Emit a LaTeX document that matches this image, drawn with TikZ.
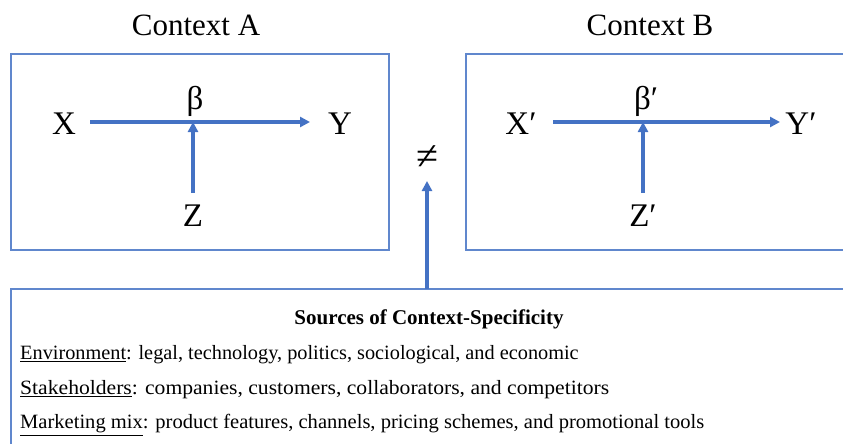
\documentclass[tikz,border=0pt]{standalone}
\usepackage{fontspec}
\setmainfont{Liberation Serif}
\usetikzlibrary{arrows.meta}
\definecolor{lineblue}{RGB}{68,114,196}
\begin{document}
\begin{tikzpicture}[x=1pt,y=-1pt,
  ctxbox/.style={draw=lineblue!85, line width=1.1pt},
  arr/.style={draw=lineblue, line width=3.4pt, -{Triangle[length=10pt,width=10pt]}},
  big/.style={font=\fontsize{33}{36}\selectfont, inner sep=0pt},
  title/.style={font=\fontsize{31}{34}\selectfont, inner sep=0pt},
  body/.style={font=\fontsize{20.3}{23}\selectfont, inner sep=0pt, anchor=west}]
\useasboundingbox (0,0) rectangle (843,444);
\clip (0,0) rectangle (843,444);
% boxes
\draw[ctxbox] (11,54) rectangle (389,250);
\draw[ctxbox] (466,54) rectangle (860,250);
\draw[ctxbox] (11,289) rectangle (860,460);
% titles
\node[title] (ta) at (196,25) {Context A};
\node[title] (tb) at (650,25) {Context B};
% context A
\node[big] (x) at (64,124) {X};
\node[big] (y) at (340,124) {Y};
\node[big] (z) at (193,216) {Z};
\node[big] (b) at (195,101) {β};
\coordinate (xa) at (90,122);
\coordinate (ya) at (310,122);
\coordinate (mid) at (193,122);
\draw[arr] (xa) -- (ya);
\coordinate (za) at (193,193);
\draw[arr] (za) -- (mid);
% context B
\node[big] (x2) at (521,124) {X′};
\node[big] (y2) at (801,124) {Y′};
\node[big] (z2) at (643,216) {Z′};
\node[big] (b2) at (646,101) {β′};
\coordinate (xb) at (553,122);
\coordinate (yb) at (780,122);
\coordinate (mid2) at (643,122);
\draw[arr] (xb) -- (yb);
\coordinate (zb) at (643,193);
\draw[arr] (zb) -- (mid2);
% neq
\node[font=\fontsize{40}{44}\selectfont, inner sep=0pt] (ne) at (427,158) {≠};
\coordinate (src) at (427,289);
\draw[arr] (src) -- (427,181);
% bottom text
\node[font=\fontsize{21}{24}\selectfont\bfseries, inner sep=0pt] (st) at (429,319) {Sources of Context-Specificity};
\node[body] (e) at (20,355) {\underline{Environment}: legal, technology, politics, sociological, and economic};
\node[body, xscale=1.065] (s) at (20,390) {\underline{Stakeholders}: companies, customers, collaborators, and competitors};
\node[body, xscale=1.012] (m) at (20,425) {\underline{Marketing mix}: product features, channels, pricing schemes, and promotional tools};
\end{tikzpicture}
\end{document}
